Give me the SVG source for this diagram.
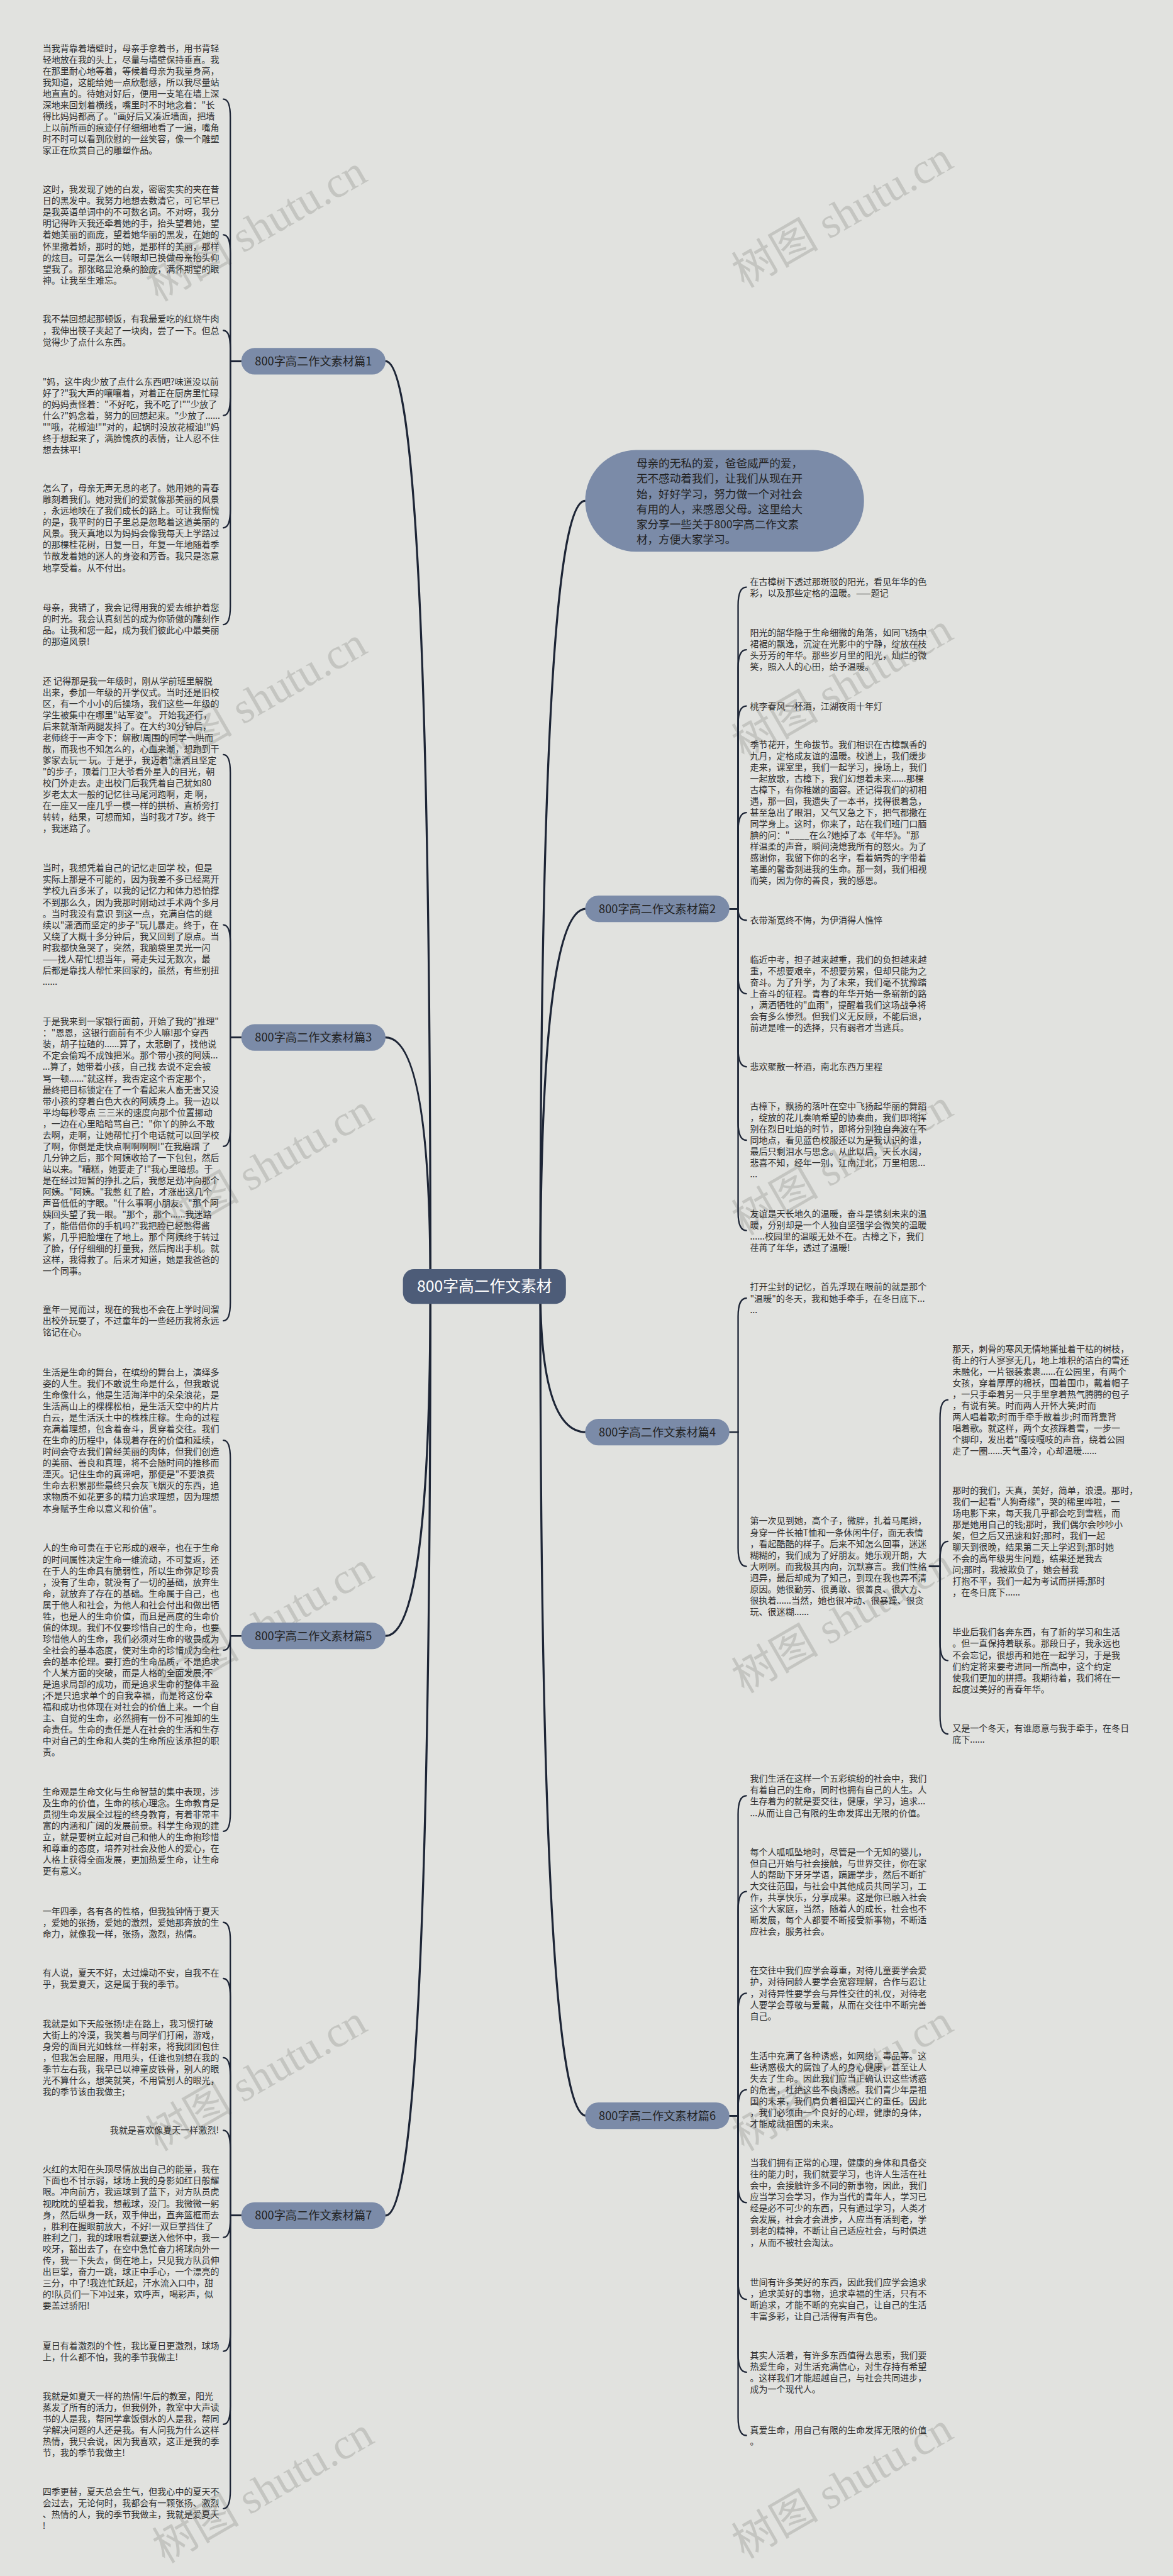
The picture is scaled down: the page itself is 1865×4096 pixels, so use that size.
<svg xmlns="http://www.w3.org/2000/svg" width="1865" height="4096" viewBox="0 0 1865 4096">
<style>
.t{font-family:"Noto Sans CJK SC","Liberation Sans",sans-serif;font-size:19.3px;fill:#2e2e2e}
.wm{font-family:"Liberation Serif","Noto Sans CJK SC",serif;font-size:95px;fill:#c4c5c1}
.bn{fill:#7b8ba8}
.bt{font-family:"Noto Sans CJK SC","Liberation Sans",sans-serif;font-size:25px;fill:#222;text-anchor:middle}
.ct{font-family:"Noto Sans CJK SC","Liberation Sans",sans-serif;font-size:34px;fill:#fff;text-anchor:middle}
.c1{fill:none;stroke:#1d2536;stroke-width:4.5;stroke-linecap:round}
.c2{fill:none;stroke:#1d2536;stroke-width:3.2;stroke-linecap:round}
</style>
<rect width="1865" height="4096" fill="#e1e2df"/>
<g transform="scale(0.728)">
<g id="watermarks">
<text class="wm" transform="translate(345,660) rotate(-30)">树图 shutu.cn</text>
<text class="wm" transform="translate(1625,630) rotate(-30)">树图 shutu.cn</text>
<text class="wm" transform="translate(345,1690) rotate(-30)">树图 shutu.cn</text>
<text class="wm" transform="translate(1625,1660) rotate(-30)">树图 shutu.cn</text>
<text class="wm" transform="translate(360,2710) rotate(-30)">树图 shutu.cn</text>
<text class="wm" transform="translate(1625,2700) rotate(-30)">树图 shutu.cn</text>
<text class="wm" transform="translate(360,3710) rotate(-30)">树图 shutu.cn</text>
<text class="wm" transform="translate(1625,3700) rotate(-30)">树图 shutu.cn</text>
<text class="wm" transform="translate(345,4700) rotate(-30)">树图 shutu.cn</text>
<text class="wm" transform="translate(1625,4700) rotate(-30)">树图 shutu.cn</text>
<text class="wm" transform="translate(360,5600) rotate(-30)">树图 shutu.cn</text>
<text class="wm" transform="translate(1625,5590) rotate(-30)">树图 shutu.cn</text>
</g>
<g id="connectors">
<path class="c1" d="M940 2810Q940 789 842 789"/>
<path class="c1" d="M940 2810Q940 2266 842 2266"/>
<path class="c1" d="M940 2810Q940 3573 842 3573"/>
<path class="c1" d="M940 2810Q940 4839 842 4839"/>
<path class="c1" d="M1180 2810Q1180 1094 1278 1094"/>
<path class="c1" d="M1180 2810Q1180 1985 1280 1985"/>
<path class="c1" d="M1180 2810Q1180 3128 1280 3128"/>
<path class="c1" d="M1180 2810Q1180 4621 1280 4621"/>
<path class="c2" d="M527 789H503V256.6Q503 216.6 488 216.6"/>
<path class="c2" d="M527 789H503V552.9Q503 512.9 488 512.9"/>
<path class="c2" d="M527 789H503V761.8Q503 721.8 488 721.8"/>
<path class="c2" d="M527 789H503V867.4Q503 907.4 488 907.4"/>
<path class="c2" d="M527 789H503V1112.8Q503 1152.8 488 1152.8"/>
<path class="c2" d="M527 789H503V1324.2Q503 1364.2 488 1364.2"/>
<path class="c2" d="M527 2266H503V1688.2Q503 1648.2 488 1648.2"/>
<path class="c2" d="M527 2266H503V2060Q503 2020 488 2020"/>
<path class="c2" d="M527 2266H503V2463.8Q503 2503.8 488 2503.8"/>
<path class="c2" d="M527 2266H503V2844.8Q503 2884.8 488 2884.8"/>
<path class="c2" d="M527 3573H503V3185.8Q503 3145.8 488 3145.8"/>
<path class="c2" d="M527 3573H503Q503 3604.2 488 3604.2"/>
<path class="c2" d="M527 3573H503V3959.8Q503 3999.8 488 3999.8"/>
<path class="c2" d="M527 4839H503V4238.8Q503 4198.8 488 4198.8"/>
<path class="c2" d="M527 4839H503V4361.4Q503 4321.4 488 4321.4"/>
<path class="c2" d="M527 4839H503V4534.4Q503 4494.4 488 4494.4"/>
<path class="c2" d="M527 4839H503V4693Q503 4653 488 4653"/>
<path class="c2" d="M527 4839H503V4846.8Q503 4886.8 488 4886.8"/>
<path class="c2" d="M527 4839H503V5095.4Q503 5135.4 488 5135.4"/>
<path class="c2" d="M527 4839H503V5255Q503 5295 488 5295"/>
<path class="c2" d="M527 4839H503V5439.2Q503 5479.2 488 5479.2"/>
<path class="c2" d="M1593 1985H1612V1322.4Q1612 1282.4 1630 1282.4"/>
<path class="c2" d="M1593 1985H1612V1459.2Q1612 1419.2 1630 1419.2"/>
<path class="c2" d="M1593 1985H1612V1582Q1612 1542 1630 1542"/>
<path class="c2" d="M1593 1985H1612V1814.8Q1612 1774.8 1630 1774.8"/>
<path class="c2" d="M1593 1985H1612Q1612 2010 1630 2010"/>
<path class="c2" d="M1593 1985H1612V2130.4Q1612 2170.4 1630 2170.4"/>
<path class="c2" d="M1593 1985H1612V2290Q1612 2330 1630 2330"/>
<path class="c2" d="M1593 1985H1612V2450.4Q1612 2490.4 1630 2490.4"/>
<path class="c2" d="M1593 1985H1612V2647.7Q1612 2687.7 1630 2687.7"/>
<path class="c2" d="M1593 3128H1612V2875.5Q1612 2835.5 1630 2835.5"/>
<path class="c2" d="M1593 3128H1612V3381.2Q1612 3421.2 1630 3421.2"/>
<path class="c2" d="M2030 3421.2H2053V3097.6Q2053 3057.6 2070 3057.6"/>
<path class="c2" d="M2030 3421.2H2053V3406.6Q2053 3366.6 2070 3366.6"/>
<path class="c2" d="M2030 3421.2H2053V3587Q2053 3627 2070 3627"/>
<path class="c2" d="M2030 3421.2H2053V3747.4Q2053 3787.4 2070 3787.4"/>
<path class="c2" d="M1593 4621H1612V3962.2Q1612 3922.2 1630 3922.2"/>
<path class="c2" d="M1593 4621H1612V4171.4Q1612 4131.4 1630 4131.4"/>
<path class="c2" d="M1593 4621H1612V4393.6Q1612 4353.6 1630 4353.6"/>
<path class="c2" d="M1593 4621H1612V4604.4Q1612 4564.4 1630 4564.4"/>
<path class="c2" d="M1593 4621H1612V4770.8Q1612 4810.8 1630 4810.8"/>
<path class="c2" d="M1593 4621H1612V4982.2Q1612 5022.2 1630 5022.2"/>
<path class="c2" d="M1593 4621H1612V5141.2Q1612 5181.2 1630 5181.2"/>
<path class="c2" d="M1593 4621H1612V5279.4Q1612 5319.4 1630 5319.4"/>
</g>
<g id="root">
<rect x="880" y="2772" width="356" height="76" rx="24" fill="#4d5c78"/>
<text class="ct" x="1058" y="2822">800字高二作文素材</text>
</g>
<g id="intro">
<rect x="1278" y="983" width="609" height="222" rx="111" class="bn"/>
<text class="t" style="font-size:24.2px;fill:#222"><tspan x="1390" y="1020.5">母亲的无私的爱，爸爸威严的爱，</tspan><tspan x="1390" dy="33.4">无不感动着我们，让我们从现在开</tspan><tspan x="1390" dy="33.4">始，好好学习，努力做一个对社会</tspan><tspan x="1390" dy="33.4">有用的人，来感恩父母。这里给大</tspan><tspan x="1390" dy="33.4">家分享一些关于800字高二作文素</tspan><tspan x="1390" dy="33.4">材，方便大家学习。</tspan></text>
</g>
<g id="branch1">
<rect x="527" y="760" width="315" height="58" rx="29" class="bn"/>
<text class="bt" x="684.5" y="798">800字高二作文素材篇1</text>
</g>
<g id="branch3">
<rect x="527" y="2237" width="315" height="58" rx="29" class="bn"/>
<text class="bt" x="684.5" y="2275">800字高二作文素材篇3</text>
</g>
<g id="branch5">
<rect x="527" y="3544" width="315" height="58" rx="29" class="bn"/>
<text class="bt" x="684.5" y="3582">800字高二作文素材篇5</text>
</g>
<g id="branch7">
<rect x="527" y="4810" width="315" height="58" rx="29" class="bn"/>
<text class="bt" x="684.5" y="4848">800字高二作文素材篇7</text>
</g>
<g id="branch2">
<rect x="1278" y="1956" width="315" height="58" rx="29" class="bn"/>
<text class="bt" x="1435.5" y="1994">800字高二作文素材篇2</text>
</g>
<g id="branch4">
<rect x="1278" y="3099" width="315" height="58" rx="29" class="bn"/>
<text class="bt" x="1435.5" y="3137">800字高二作文素材篇4</text>
</g>
<g id="branch6">
<rect x="1278" y="4592" width="315" height="58" rx="29" class="bn"/>
<text class="bt" x="1435.5" y="4630">800字高二作文素材篇6</text>
</g>
<g id="texts-left">
<text class="t"><tspan x="93" y="112">当我背靠着墙壁时，母亲手拿着书，用书背轻</tspan><tspan x="93" dy="24.8">轻地放在我的头上，尽量与墙壁保持垂直。我</tspan><tspan x="93" dy="24.8">在那里耐心地等着，等候着母亲为我量身高，</tspan><tspan x="93" dy="24.8">我知道，这能给她一点欣慰感，所以我尽量站</tspan><tspan x="93" dy="24.8">地直直的。待她对好后，便用一支笔在墙上深</tspan><tspan x="93" dy="24.8">深地来回划着横线，嘴里时不时地念着："长</tspan><tspan x="93" dy="24.8">得比妈妈都高了。"画好后又凑近墙面，把墙</tspan><tspan x="93" dy="24.8">上以前所画的痕迹仔仔细细地看了一遍，嘴角</tspan><tspan x="93" dy="24.8">时不时可以看到欣慰的一丝笑容，像一个雕塑</tspan><tspan x="93" dy="24.8">家正在欣赏自己的雕塑作品。</tspan></text>
<text class="t"><tspan x="93" y="420.7">这时，我发现了她的白发，密密实实的夹在昔</tspan><tspan x="93" dy="24.8">日的黑发中。我努力地想去数清它，可它早已</tspan><tspan x="93" dy="24.8">是我英语单词中的不可数名词。不对呀，我分</tspan><tspan x="93" dy="24.8">明记得昨天我还牵着她的手，抬头望着她，望</tspan><tspan x="93" dy="24.8">着她美丽的面庞，望着她华丽的黑发，在她的</tspan><tspan x="93" dy="24.8">怀里撒着娇，那时的她，是那样的美丽，那样</tspan><tspan x="93" dy="24.8">的炫目。可是怎么一转眼却已换做母亲抬头仰</tspan><tspan x="93" dy="24.8">望我了。那张略显沧桑的脸庞，满怀期望的眼</tspan><tspan x="93" dy="24.8">神。让我至生难忘。</tspan></text>
<text class="t"><tspan x="93" y="704">我不禁回想起那顿饭，有我最爱吃的红烧牛肉</tspan><tspan x="93" dy="24.8">，我伸出筷子夹起了一块肉，尝了一下。但总</tspan><tspan x="93" dy="24.8">觉得少了点什么东西。</tspan></text>
<text class="t"><tspan x="93" y="840">"妈，这牛肉少放了点什么东西吧?味道没以前</tspan><tspan x="93" dy="24.8">好了?"我大声的嚷嚷着，对着正在厨房里忙碌</tspan><tspan x="93" dy="24.8">的妈妈责怪着："不好吃，我不吃了!""少放了</tspan><tspan x="93" dy="24.8">什么?"妈念着，努力的回想起来。"少放了......</tspan><tspan x="93" dy="24.8">""哦，花椒油!""对的，起锅时没放花椒油!"妈</tspan><tspan x="93" dy="24.8">终于想起来了，满脸愧疚的表情，让人忍不住</tspan><tspan x="93" dy="24.8">想去抹平!</tspan></text>
<text class="t"><tspan x="93" y="1073">怎么了，母亲无声无息的老了。她用她的青春</tspan><tspan x="93" dy="24.8">雕刻着我们。她对我们的爱就像那美丽的风景</tspan><tspan x="93" dy="24.8">，永远地映在了我们成长的路上。可让我惭愧</tspan><tspan x="93" dy="24.8">的是，我平时的日子里总是忽略着这道美丽的</tspan><tspan x="93" dy="24.8">风景。我天真地以为妈妈会像我每天上学路过</tspan><tspan x="93" dy="24.8">的那棵桂花树，日复一日，年复一年地随着季</tspan><tspan x="93" dy="24.8">节散发着她的迷人的身姿和芳香。我只是恣意</tspan><tspan x="93" dy="24.8">地享受着。从不付出。</tspan></text>
<text class="t"><tspan x="93" y="1334">母亲，我错了，我会记得用我的爱去维护着您</tspan><tspan x="93" dy="24.8">的时光。我会认真刻苦的成为你骄傲的雕刻作</tspan><tspan x="93" dy="24.8">品。让我和您一起，成为我们彼此心中最美丽</tspan><tspan x="93" dy="24.8">的那道风景!</tspan></text>
<text class="t"><tspan x="93" y="1494">还 记得那是我一年级时，刚从学前班里解脱</tspan><tspan x="93" dy="24.8">出来，参加一年级的开学仪式。当时还是旧校</tspan><tspan x="93" dy="24.8">区，有一个小小的后操场，我们这些一年级的</tspan><tspan x="93" dy="24.8">学生被集中在哪里"站军姿"。 开始我还行，</tspan><tspan x="93" dy="24.8">后来就渐渐两腿发抖了。在大约30分钟后，</tspan><tspan x="93" dy="24.8">老师终于一声令下：解散!周围的同学一哄而</tspan><tspan x="93" dy="24.8">散，而我也不知怎么的，心血来潮，想跑到干</tspan><tspan x="93" dy="24.8">爹家去玩一 玩。于是乎，我迈着"潇洒且坚定</tspan><tspan x="93" dy="24.8">"的步子，顶着门卫大爷看外星人的目光，朝</tspan><tspan x="93" dy="24.8">校门外走去。走出校门后我凭着自己犹如80</tspan><tspan x="93" dy="24.8">岁老太太一般的记忆往马尾河跑啊，走 啊，</tspan><tspan x="93" dy="24.8">在一座又一座几乎一模一样的拱桥、直桥旁打</tspan><tspan x="93" dy="24.8">转转，结果，可想而知，当时我才7岁。终于</tspan><tspan x="93" dy="24.8">，我迷路了。</tspan></text>
<text class="t"><tspan x="93" y="1903">当时，我想凭着自己的记忆走回学 校，但是</tspan><tspan x="93" dy="24.8">实际上那是不可能的，因为我差不多已经离开</tspan><tspan x="93" dy="24.8">学校九百多米了，以我的记忆力和体力恐怕撑</tspan><tspan x="93" dy="24.8">不到那么久，因为我那时刚动过手术两个多月</tspan><tspan x="93" dy="24.8">。当时我没有意识 到这一点，充满自信的继</tspan><tspan x="93" dy="24.8">续以"潇洒而坚定的步子"玩儿暴走。终于，在</tspan><tspan x="93" dy="24.8">又绕了大概十多分钟后，我又回到了原点。当</tspan><tspan x="93" dy="24.8">时我都快急哭了，突然，我脑袋里灵光一闪</tspan><tspan x="93" dy="24.8">——找人帮忙!想当年，哥走失过无数次，最</tspan><tspan x="93" dy="24.8">后都是靠找人帮忙来回家的，虽然，有些别扭</tspan><tspan x="93" dy="24.8">......</tspan></text>
<text class="t"><tspan x="93" y="2238">于是我来到一家银行面前，开始了我的"推理"</tspan><tspan x="93" dy="24.8">："恩恩，这银行面前有不少人嘛!那个穿西</tspan><tspan x="93" dy="24.8">装，胡子拉碴的......算了，太悲剧了，找他说</tspan><tspan x="93" dy="24.8">不定会偷鸡不成蚀把米。那个带小孩的阿姨...</tspan><tspan x="93" dy="24.8">...算了，她带着小孩，自己找 去说不定会被</tspan><tspan x="93" dy="24.8">骂一顿......"就这样，我否定这个否定那个，</tspan><tspan x="93" dy="24.8">最终把目标锁定在了一个看起来人畜无害又没</tspan><tspan x="93" dy="24.8">带小孩的穿着白色大衣的阿姨身上。我一边以</tspan><tspan x="93" dy="24.8">平均每秒零点 三三米的速度向那个位置挪动</tspan><tspan x="93" dy="24.8">，一边在心里暗暗骂自己："你丫的肿么不敢</tspan><tspan x="93" dy="24.8">去啊，走啊，让她帮忙打个电话就可以回学校</tspan><tspan x="93" dy="24.8">了啊，你倒是走快点啊啊啊啊!"在我磨蹭 了</tspan><tspan x="93" dy="24.8">几分钟之后，那个阿姨收拾了一下包包，然后</tspan><tspan x="93" dy="24.8">站以来。"糟糕，她要走了!"我心里暗想。于</tspan><tspan x="93" dy="24.8">是在经过短暂的挣扎之后，我憋足劲冲向那个</tspan><tspan x="93" dy="24.8">阿姨。"阿姨。"我憋 红了脸，才涨出这几个</tspan><tspan x="93" dy="24.8">声音低低的字眼。"什么事啊小朋友。"那个阿</tspan><tspan x="93" dy="24.8">姨回头望了我一眼。"那个，那个......我迷路</tspan><tspan x="93" dy="24.8">了，能借借你的手机吗?"我把脸已经憋得酱</tspan><tspan x="93" dy="24.8">紫，几乎把脸埋在了地上。那个阿姨终于转过</tspan><tspan x="93" dy="24.8">了脸，仔仔细细的打量我，然后掏出手机。就</tspan><tspan x="93" dy="24.8">这样，我得救了。后来才知道，她是我爸爸的</tspan><tspan x="93" dy="24.8">一个同事。</tspan></text>
<text class="t"><tspan x="93" y="2867">童年一晃而过，现在的我也不会在上学时间溜</tspan><tspan x="93" dy="24.8">出校外玩耍了，不过童年的一些经历我将永远</tspan><tspan x="93" dy="24.8">铭记在心。</tspan></text>
<text class="t"><tspan x="93" y="3004">生活是生命的舞台，在缤纷的舞台上，演绎多</tspan><tspan x="93" dy="24.8">姿的人生。我们不敢说生命是什么，但我敢说</tspan><tspan x="93" dy="24.8">生命像什么，他是生活海洋中的朵朵浪花，是</tspan><tspan x="93" dy="24.8">生活高山上的棵棵松柏，是生活天空中的片片</tspan><tspan x="93" dy="24.8">白云，是生活沃土中的株株庄稼。生命的过程</tspan><tspan x="93" dy="24.8">充满着理想，包含着奋斗，贯穿着交往。我们</tspan><tspan x="93" dy="24.8">在生命的历程中，体现着存在的价值和延续，</tspan><tspan x="93" dy="24.8">时间会夺去我们曾经美丽的肉体，但我们创造</tspan><tspan x="93" dy="24.8">的美丽、善良和真理，将不会随时间的推移而</tspan><tspan x="93" dy="24.8">湮灭。记住生命的真谛吧，那便是"不要浪费</tspan><tspan x="93" dy="24.8">生命去积累那些最终只会灰飞烟灭的东西，追</tspan><tspan x="93" dy="24.8">求物质不如花更多的精力追求理想，因为理想</tspan><tspan x="93" dy="24.8">本身赋予生命以意义和价值"。</tspan></text>
<text class="t"><tspan x="93" y="3388">人的生命可贵在于它形成的艰辛，也在于生命</tspan><tspan x="93" dy="24.8">的时间属性决定生命一维流动，不可复返，还</tspan><tspan x="93" dy="24.8">在于人的生命具有脆弱性，所以生命弥足珍贵</tspan><tspan x="93" dy="24.8">，没有了生命，就没有了一切的基础，放弃生</tspan><tspan x="93" dy="24.8">命，就放弃了存在的基础。生命属于自己，也</tspan><tspan x="93" dy="24.8">属于他人和社会，为他人和社会付出和做出牺</tspan><tspan x="93" dy="24.8">牲，也是人的生命价值，而且是高度的生命价</tspan><tspan x="93" dy="24.8">值的体现。我们不仅要珍惜自己的生命，也要</tspan><tspan x="93" dy="24.8">珍惜他人的生命，我们必须对生命的敬畏成为</tspan><tspan x="93" dy="24.8">全社会的基本态度，使对生命的珍惜成为全社</tspan><tspan x="93" dy="24.8">会的基本伦理。要打造的生命品质，不是追求</tspan><tspan x="93" dy="24.8">个人某方面的突破，而是人格的全面发展;不</tspan><tspan x="93" dy="24.8">是追求局部的成功，而是追求生命的整体丰盈</tspan><tspan x="93" dy="24.8">;不是只追求单个的自我幸福，而是将这份幸</tspan><tspan x="93" dy="24.8">福和成功也体现在对社会的价值上来。一个自</tspan><tspan x="93" dy="24.8">主、自觉的生命，必然拥有一份不可推卸的生</tspan><tspan x="93" dy="24.8">命责任。生命的责任是人在社会的生活和生存</tspan><tspan x="93" dy="24.8">中对自己的生命和人类的生命所应该承担的职</tspan><tspan x="93" dy="24.8">责。</tspan></text>
<text class="t"><tspan x="93" y="3920">生命观是生命文化与生命智慧的集中表现，涉</tspan><tspan x="93" dy="24.8">及生命的价值，生命的核心理念。生命教育是</tspan><tspan x="93" dy="24.8">贯彻生命发展全过程的终身教育，有着非常丰</tspan><tspan x="93" dy="24.8">富的内涵和广阔的发展前景。科学生命观的建</tspan><tspan x="93" dy="24.8">立，就是要树立起对自己和他人的生命抱珍惜</tspan><tspan x="93" dy="24.8">和尊重的态度，培养对社会及他人的爱心，在</tspan><tspan x="93" dy="24.8">人格上获得全面发展，更加热爱生命，让生命</tspan><tspan x="93" dy="24.8">更有意义。</tspan></text>
<text class="t"><tspan x="93" y="4181">一年四季，各有各的性格，但我独钟情于夏天</tspan><tspan x="93" dy="24.8">，爱她的张扬，爱她的激烈，爱她那奔放的生</tspan><tspan x="93" dy="24.8">命力，就像我一样，张扬，激烈，热情。</tspan></text>
<text class="t"><tspan x="93" y="4316">有人说，夏天不好，太过燥动不安，自我不在</tspan><tspan x="93" dy="24.8">乎，我爱夏天，这是属于我的季节。</tspan></text>
<text class="t"><tspan x="93" y="4427">我就是如下天般张扬!走在路上，我习惯打破</tspan><tspan x="93" dy="24.8">大街上的冷漠，我笑着与同学们打闹，游戏，</tspan><tspan x="93" dy="24.8">身旁的面目光如蛛丝一样射来，将我团团包住</tspan><tspan x="93" dy="24.8">，但我怎会屈服，甩甩头，任谁也别想在我的</tspan><tspan x="93" dy="24.8">季节左右我，我早已以神童皮铁骨，别人的眼</tspan><tspan x="93" dy="24.8">光不算什么，想笑就笑，不用管别人的眼光，</tspan><tspan x="93" dy="24.8">我的季节该由我做主;</tspan></text>
<text class="t" x="478" y="4660" text-anchor="end">我就是喜欢像夏天一样激烈!</text>
<text class="t"><tspan x="93" y="4745">火红的太阳在头顶尽情放出自己的能量，我在</tspan><tspan x="93" dy="24.8">下面也不甘示弱，球场上我的身影如红日般耀</tspan><tspan x="93" dy="24.8">眼。冲向前方，我运球到了蓝下，对方队员虎</tspan><tspan x="93" dy="24.8">视眈眈的望着我，想截球，没门。我微微一躬</tspan><tspan x="93" dy="24.8">身，然后纵身一跃，双手伸出，直奔篮框而去</tspan><tspan x="93" dy="24.8">，胜利在握眼前放大，不好!一双巨掌挡住了</tspan><tspan x="93" dy="24.8">胜利之门，我的球眼看就要送入他怀中，我一</tspan><tspan x="93" dy="24.8">咬牙，豁出去了，在空中急忙奋力将球向外一</tspan><tspan x="93" dy="24.8">传，我一下失去，倒在地上，只见我方队员伸</tspan><tspan x="93" dy="24.8">出巨掌，奋力一跳，球正中手心，一个漂亮的</tspan><tspan x="93" dy="24.8">三分，中了!我连忙跃起，汗水流入口中，甜</tspan><tspan x="93" dy="24.8">的!队员们一下冲过来，欢呼声，喝彩声，似</tspan><tspan x="93" dy="24.8">要盖过骄阳!</tspan></text>
<text class="t"><tspan x="93" y="5130">夏日有着激烈的个性，我比夏日更激烈，球场</tspan><tspan x="93" dy="24.8">上，什么都不怕，我的季节我做主!</tspan></text>
<text class="t"><tspan x="93" y="5240">我就是如夏天一样的热情!午后的教室，阳光</tspan><tspan x="93" dy="24.8">蒸发了所有的活力，但我例外，教室中大声读</tspan><tspan x="93" dy="24.8">书的人是我，帮同学拿饭倒水的人是我，帮同</tspan><tspan x="93" dy="24.8">学解决问题的人还是我。有人问我为什么这样</tspan><tspan x="93" dy="24.8">热情，我只会说，因为我喜欢，这正是我的季</tspan><tspan x="93" dy="24.8">节，我的季节我做主!</tspan></text>
<text class="t"><tspan x="93" y="5449">四季更替，夏天总会生气，但我心中的夏天不</tspan><tspan x="93" dy="24.8">会过去，无论何时，我都会有一颗张扬、激烈</tspan><tspan x="93" dy="24.8">、热情的人，我的季节我做主，我就是爱夏天</tspan><tspan x="93" dy="24.8">!</tspan></text>
</g>
<g id="texts-right">
<text class="t"><tspan x="1638" y="1277">在古樟树下透过那斑驳的阳光，看见年华的色</tspan><tspan x="1638" dy="24.8">彩，以及那些定格的温暖。——题记</tspan></text>
<text class="t"><tspan x="1638" y="1389">阳光的韶华隐于生命细微的角落，如同飞扬中</tspan><tspan x="1638" dy="24.8">裙裾的飘逸，沉淀在光影中的宁静，绽放在枝</tspan><tspan x="1638" dy="24.8">头芬芳的年华。那些岁月里的阳光，灿烂的微</tspan><tspan x="1638" dy="24.8">笑，照入人的心田，给予温暖。</tspan></text>
<text class="t" x="1638" y="1549">桃李春风一杯酒，江湖夜雨十年灯</text>
<text class="t"><tspan x="1638" y="1633">季节花开，生命拔节。我们相识在古樟飘香的</tspan><tspan x="1638" dy="24.8">九月，定格成友谊的温暖。校道上，我们缓步</tspan><tspan x="1638" dy="24.8">走来，课室里，我们一起学习，操场上，我们</tspan><tspan x="1638" dy="24.8">一起放歌，古樟下，我们幻想着未来......那棵</tspan><tspan x="1638" dy="24.8">古樟下，有你稚嫩的面容。还记得我们的初相</tspan><tspan x="1638" dy="24.8">遇，那一回，我遗失了一本书，找得很着急，</tspan><tspan x="1638" dy="24.8">甚至急出了眼泪，又气又急之下，把气都撒在</tspan><tspan x="1638" dy="24.8">同学身上。这时，你来了，站在我们班门口腼</tspan><tspan x="1638" dy="24.8">腆的问："____在么?她掉了本《年华》。"那</tspan><tspan x="1638" dy="24.8">样温柔的声音，瞬间浇熄我所有的怒火。为了</tspan><tspan x="1638" dy="24.8">感谢你，我留下你的名字，看着娟秀的字带着</tspan><tspan x="1638" dy="24.8">笔墨的馨香刻进我的生命。那一刻，我们相视</tspan><tspan x="1638" dy="24.8">而笑，因为你的善良，我的感恩。</tspan></text>
<text class="t" x="1638" y="2017">衣带渐宽终不悔，为伊消得人憔悴</text>
<text class="t"><tspan x="1638" y="2103">临近中考，担子越来越重，我们的负担越来越</tspan><tspan x="1638" dy="24.8">重，不想要艰辛，不想要劳累，但却只能为之</tspan><tspan x="1638" dy="24.8">奋斗。为了升学，为了未来，我们毫不犹豫踏</tspan><tspan x="1638" dy="24.8">上奋斗的征程。青春的年华开始一条崭新的路</tspan><tspan x="1638" dy="24.8">，满洒牺牲的"血雨"，提醒着我们这场战争将</tspan><tspan x="1638" dy="24.8">会有多么惨烈。但我们义无反顾，不能后退，</tspan><tspan x="1638" dy="24.8">前进是唯一的选择，只有弱者才当逃兵。</tspan></text>
<text class="t" x="1638" y="2337">悲欢聚散一杯酒，南北东西万里程</text>
<text class="t"><tspan x="1638" y="2423">古樟下，飘扬的落叶在空中飞扬起华丽的舞蹈</tspan><tspan x="1638" dy="24.8">，绽放的花儿奏响希望的协奏曲，我们即将挥</tspan><tspan x="1638" dy="24.8">别在烈日吐焰的时节，即将分别独自奔波在不</tspan><tspan x="1638" dy="24.8">同地点，看见蓝色校服还以为是我认识的谁，</tspan><tspan x="1638" dy="24.8">最后只剩泪水与思念。从此以后，天长水阔，</tspan><tspan x="1638" dy="24.8">悲喜不知，经年一别，江南江北，万里相思...</tspan><tspan x="1638" dy="24.8">...</tspan></text>
<text class="t"><tspan x="1638" y="2657.5">友谊是天长地久的温暖，奋斗是镌刻未来的温</tspan><tspan x="1638" dy="24.8">暖，分别却是一个人独自坚强学会微笑的温暖</tspan><tspan x="1638" dy="24.8">......校园里的温暖无处不在。古樟之下，我们</tspan><tspan x="1638" dy="24.8">荏苒了年华，透过了温暖!</tspan></text>
<text class="t"><tspan x="1638" y="2818">打开尘封的记忆，首先浮现在眼前的就是那个</tspan><tspan x="1638" dy="24.8">"温暖"的冬天，我和她手牵手，在冬日底下...</tspan><tspan x="1638" dy="24.8">...</tspan></text>
<text class="t"><tspan x="1638" y="3329">第一次见到她，高个子，微胖，扎着马尾辫，</tspan><tspan x="1638" dy="24.8">身穿一件长袖T恤和一条休闲牛仔，面无表情</tspan><tspan x="1638" dy="24.8">，看起酷酷的样子。后来不知怎么回事，迷迷</tspan><tspan x="1638" dy="24.8">糊糊的，我们成为了好朋友。她乐观开朗，大</tspan><tspan x="1638" dy="24.8">大咧咧。而我极其内向，沉默寡言。我们性格</tspan><tspan x="1638" dy="24.8">迥异，最后却成为了知己，到现在我也弄不清</tspan><tspan x="1638" dy="24.8">原因。她很勤劳、很勇敢、很善良、很大方、</tspan><tspan x="1638" dy="24.8">很执着......当然，她也很冲动、很暴躁、很贪</tspan><tspan x="1638" dy="24.8">玩、很迷糊......</tspan></text>
<text class="t"><tspan x="1638" y="3892">我们生活在这样一个五彩缤纷的社会中，我们</tspan><tspan x="1638" dy="24.8">有着自己的生命，同时也拥有自己的人生。人</tspan><tspan x="1638" dy="24.8">生存着为的就是要交往，健康，学习，追求...</tspan><tspan x="1638" dy="24.8">...从而让自己有限的生命发挥出无限的价值。</tspan></text>
<text class="t"><tspan x="1638" y="4051.6">每个人呱呱坠地时，尽管是一个无知的婴儿，</tspan><tspan x="1638" dy="24.8">但自己开始与社会接触，与世界交往，你在家</tspan><tspan x="1638" dy="24.8">人的帮助下牙牙学语，蹒跚学步，然后不断扩</tspan><tspan x="1638" dy="24.8">大交往范围，与社会中其他成员共同学习，工</tspan><tspan x="1638" dy="24.8">作，共享快乐，分享成果。这是你已融入社会</tspan><tspan x="1638" dy="24.8">这个大家庭，当然，随着人的成长，社会也不</tspan><tspan x="1638" dy="24.8">断发展，每个人都要不断接受新事物，不断适</tspan><tspan x="1638" dy="24.8">应社会，服务社会。</tspan></text>
<text class="t"><tspan x="1638" y="4311">在交往中我们应学会尊重，对待儿童要学会爱</tspan><tspan x="1638" dy="24.8">护，对待同龄人要学会宽容理解，合作与忍让</tspan><tspan x="1638" dy="24.8">，对待异性要学会与异性交往的礼仪，对待老</tspan><tspan x="1638" dy="24.8">人要学会尊敬与爱戴，从而在交往中不断完善</tspan><tspan x="1638" dy="24.8">自己。</tspan></text>
<text class="t"><tspan x="1638" y="4497">生活中充满了各种诱惑，如网络，毒品等。这</tspan><tspan x="1638" dy="24.8">些诱惑极大的腐蚀了人的身心健康，甚至让人</tspan><tspan x="1638" dy="24.8">失去了生命。因此我们应当正确认识这些诱惑</tspan><tspan x="1638" dy="24.8">的危害，杜绝这些不良诱惑。我们青少年是祖</tspan><tspan x="1638" dy="24.8">国的未来，我们肩负着祖国兴亡的重任。因此</tspan><tspan x="1638" dy="24.8">，我们必须由一个良好的心理，健康的身体，</tspan><tspan x="1638" dy="24.8">才能成就祖国的未来。</tspan></text>
<text class="t"><tspan x="1638" y="4731">当我们拥有正常的心理，健康的身体和具备交</tspan><tspan x="1638" dy="24.8">往的能力时，我们就要学习，也许人生活在社</tspan><tspan x="1638" dy="24.8">会中，会接触许多不同的新事物，因此，我们</tspan><tspan x="1638" dy="24.8">应当学习会学习，作为当代的青年人，学习已</tspan><tspan x="1638" dy="24.8">经是必不可少的东西，只有通过学习，人类才</tspan><tspan x="1638" dy="24.8">会发展，社会才会进步，人应当有活到老，学</tspan><tspan x="1638" dy="24.8">到老的精神，不断让自己适应社会，与时俱进</tspan><tspan x="1638" dy="24.8">，从而不被社会淘汰。</tspan></text>
<text class="t"><tspan x="1638" y="4992">世间有许多美好的东西，因此我们应学会追求</tspan><tspan x="1638" dy="24.8">，追求美好的事物，追求幸福的生活，只有不</tspan><tspan x="1638" dy="24.8">断追求，才能不断的充实自己，让自己的生活</tspan><tspan x="1638" dy="24.8">丰富多彩，让自己活得有声有色。</tspan></text>
<text class="t"><tspan x="1638" y="5151">其实人活着，有许多东西值得去思索，我们要</tspan><tspan x="1638" dy="24.8">热爱生命，对生活充满信心，对生存持有希望</tspan><tspan x="1638" dy="24.8">。这样我们才能超越自己，与社会共同进步，</tspan><tspan x="1638" dy="24.8">成为一个现代人。</tspan></text>
<text class="t"><tspan x="1638" y="5314">真爱生命，用自己有限的生命发挥无限的价值</tspan><tspan x="1638" dy="24.8">。</tspan></text>
</g>
<g id="texts-far">
<text class="t"><tspan x="2080" y="2953">那天，刺骨的寒风无情地撕扯着干枯的树枝，</tspan><tspan x="2080" dy="24.8">街上的行人寥寥无几，地上堆积的洁白的雪还</tspan><tspan x="2080" dy="24.8">未融化，一片银装素裹......在公园里，有两个</tspan><tspan x="2080" dy="24.8">女孩，穿着厚厚的棉袄，围着围巾，戴着帽子</tspan><tspan x="2080" dy="24.8">，一只手牵着另一只手里拿着热气腾腾的包子</tspan><tspan x="2080" dy="24.8">，有说有笑。时而两人开怀大笑;时而</tspan><tspan x="2080" dy="24.8">两人唱着歌;时而手牵手散着步;时而背靠背</tspan><tspan x="2080" dy="24.8">唱着歌。就这样，两个女孩踩着雪，一步一</tspan><tspan x="2080" dy="24.8">个脚印，发出着"嘎吱嘎吱的声音，绕着公园</tspan><tspan x="2080" dy="24.8">走了一圈......天气虽冷，心却温暖......</tspan></text>
<text class="t"><tspan x="2080" y="3262">那时的我们，天真，美好，简单，浪漫。那时，</tspan><tspan x="2080" dy="24.8">我们一起看"人狗奇缘"，哭的稀里哗啦，一</tspan><tspan x="2080" dy="24.8">场电影下来，每天我几乎都会吃到雪糕，而</tspan><tspan x="2080" dy="24.8">那是她用自己的钱;那时，我们偶尔会吵吵小</tspan><tspan x="2080" dy="24.8">架，但之后又迅速和好;那时，我们一起</tspan><tspan x="2080" dy="24.8">聊天到很晚，结果第二天上学迟到;那时她</tspan><tspan x="2080" dy="24.8">不会的高年级男生问题，结果还是我去</tspan><tspan x="2080" dy="24.8">问;那时，我被欺负了，她会替我</tspan><tspan x="2080" dy="24.8">打抱不平，我们一起为考试而拼搏;那时</tspan><tspan x="2080" dy="24.8">，在冬日底下......</tspan></text>
<text class="t"><tspan x="2080" y="3572">毕业后我们各奔东西，有了新的学习和生活</tspan><tspan x="2080" dy="24.8">。但一直保持着联系。那段日子，我永远也</tspan><tspan x="2080" dy="24.8">不会忘记，很想再和她在一起学习，于是我</tspan><tspan x="2080" dy="24.8">们约定将来要考进同一所高中，这个约定</tspan><tspan x="2080" dy="24.8">使我们更加的拼搏。我期待着，我们将在一</tspan><tspan x="2080" dy="24.8">起度过美好的青春年华。</tspan></text>
<text class="t"><tspan x="2080" y="3782">又是一个冬天，有谁愿意与我手牵手，在冬日</tspan><tspan x="2080" dy="24.8">底下......</tspan></text>
</g>
</g>
</svg>
